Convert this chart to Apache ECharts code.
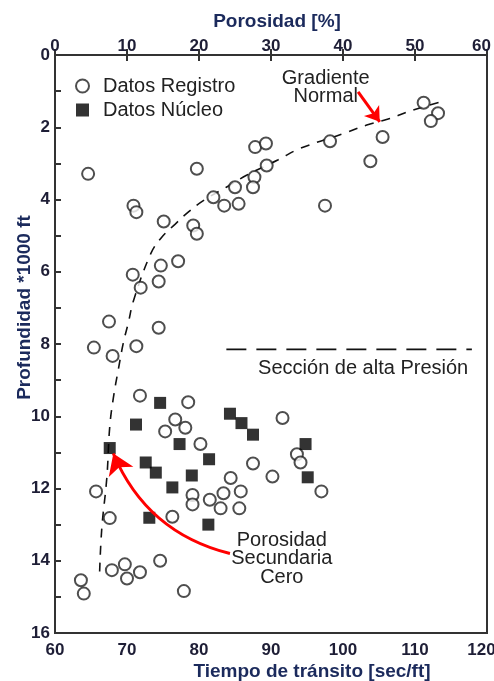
<!DOCTYPE html>
<html>
<head>
<meta charset="utf-8">
<script src="https://cdn.jsdelivr.net/npm/echarts@6/dist/echarts.min.js"></script>
<style>
  html, body { margin: 0; padding: 0; background: #fff; }
  #chart { width: 494px; height: 681px; }
</style>
</head>
<body>
<div id="chart"></div>
<script>
// [tiempo de transito (sec/ft), profundidad (*1000 ft)]
var datosRegistro = [
  [111.2, 1.32], [113.2, 1.61], [112.2, 1.83], [105.5, 2.27], [103.8, 2.94],
  [97.5, 4.17], [98.2, 2.39], [64.6, 3.29], [79.7, 3.15], [87.8, 2.55],
  [89.3, 2.45], [89.4, 3.06], [87.7, 3.38], [87.5, 3.66], [85.0, 3.66],
  [82.0, 3.94], [83.5, 4.17], [85.5, 4.12], [70.9, 4.17], [71.3, 4.35],
  [75.1, 4.61], [79.2, 4.72], [79.7, 4.95], [77.1, 5.71], [74.7, 5.83],
  [70.8, 6.08], [74.4, 6.27], [71.9, 6.44], [67.5, 7.38], [74.4, 7.55],
  [65.4, 8.10], [71.3, 8.06], [68.0, 8.33], [71.8, 9.43], [78.5, 9.61],
  [76.7, 10.09], [78.1, 10.32], [75.3, 10.42], [80.2, 10.77], [91.6, 10.05],
  [93.6, 11.05], [94.1, 11.28], [87.5, 11.31], [90.2, 11.67], [97.0, 12.08],
  [84.4, 11.71], [83.4, 12.13], [85.8, 12.08], [79.1, 12.18], [79.1, 12.44],
  [81.5, 12.31], [83.0, 12.55], [85.6, 12.55], [76.3, 12.78], [65.7, 12.08],
  [67.6, 12.82], [74.6, 14.0], [67.9, 14.26], [69.7, 14.10], [70.0, 14.49],
  [71.8, 14.32], [63.6, 14.54], [64.0, 14.91], [77.9, 14.84]
]

var datosNucleo = [
  [74.6, 9.63], [71.25, 10.23], [67.6, 10.88], [77.3, 10.77], [84.3, 9.93],
  [85.9, 10.19], [87.5, 10.51], [81.4, 11.19], [94.8, 10.77], [95.1, 11.69],
  [79.0, 11.64], [76.3, 11.97], [72.6, 11.28], [74.0, 11.56], [73.1, 12.81],
  [81.3, 13.0]
]

// tendencia del gradiente normal (linea discontinua)
var gradienteNormal = [
  [66.2, 14.3], [66.5, 13.1], [67.2, 11.7], [67.6, 10.3], [68.1, 9.5],
  [68.8, 8.7], [69.5, 7.96], [70.2, 7.4], [70.9, 6.8], [73.3, 5.5],
  [74.8, 5.05], [76.7, 4.68], [78.5, 4.35], [80.6, 4.03], [83.8, 3.66],
  [86.6, 3.33], [91.0, 2.9], [94.0, 2.59], [100.0, 2.18], [103.3, 1.94],
  [106.5, 1.76], [109.3, 1.55], [113.5, 1.30]
]

var seccionAltaPresion = [[83.8, 8.15], [117.9, 8.15]]

var flechaGradiente = [[102.1, 1.02], [105.1, 1.85]]
var flechaPorosidad = [[84.3, 13.8], [68.1, 11.03]]

var xTicks = { min: 60, max: 120, interval: 10 }
var porosidadTicks = { min: 0, max: 60, interval: 10 }
var yTicks = { min: 0, max: 16, interval: 2 }

var fontFam = 'Liberation Sans, Arial, sans-serif'
var tickColor = '#1e1e36'
var nameColor = '#1b2a5c'
var lineColor = '#333'
var rojo = '#ff0000'

function flecha(coords, curva, size) {
  return {
    type: 'lines',
    coordinateSystem: 'cartesian2d',
    silent: true,
    z: 5,
    symbol: ['none', 'arrow'],
    symbolSize: size,
    lineStyle: { color: rojo, width: 3, opacity: 1, curveness: curva },
    itemStyle: { color: rojo },
    data: [{ coords: coords }]
  }
}

// la ultima etiqueta de cada eje horizontal queda un poco hacia dentro
function etiquetaX(max) {
  return {
    fontSize: 17, fontWeight: 'bold', color: tickColor, fontFamily: fontFam,
    formatter: function (v) {
      return v === max ? '{m|' + v + '}' : '' + v
    },
    rich: {
      m: {
        fontSize: 17, fontWeight: 'bold', color: tickColor, fontFamily: fontFam,
        padding: [0, 11, 0, 0]
      }
    }
  }
}

var chart = echarts.init(document.getElementById('chart'))

var ejeInferior = etiquetaX(xTicks.max)
ejeInferior.margin = 9
var ejeSuperior = etiquetaX(porosidadTicks.max)
ejeSuperior.margin = 0

chart.setOption({
  animation: false,
  grid: {
    left: 55,
    right: 7,
    top: 55,
    bottom: 48,
    outerBoundsMode: 'none',
    show: true,
    borderColor: lineColor,
    borderWidth: 2
  },
  legend: {
    orient: 'vertical',
    left: 70,
    top: 71,
    itemWidth: 13,
    itemHeight: 13,
    itemGap: 4,
    selectedMode: false,
    data: ['Datos Registro', 'Datos Núcleo'],
    textStyle: { fontSize: 20, color: '#222', fontFamily: fontFam, padding: [0, 0, 0, 9] }
  },
  xAxis: [
    {
      type: 'value',
      position: 'bottom',
      min: xTicks.min,
      max: xTicks.max,
      interval: xTicks.interval,
      name: 'Tiempo de tránsito [sec/ft]',
      nameLocation: 'middle',
      nameMoveOverlap: false,
      nameGap: 29,
      nameTextStyle: {
        fontSize: 19, fontWeight: 'bold', color: nameColor, fontFamily: fontFam,
        padding: [0, 0, 0, 82]
      },
      axisLine: { lineStyle: { color: lineColor, width: 2 } },
      axisTick: { inside: true, length: 6, lineStyle: { color: lineColor, width: 2 } },
      axisLabel: ejeInferior,
      splitLine: { show: false }
    },
    {
      type: 'value',
      position: 'top',
      min: porosidadTicks.min,
      max: porosidadTicks.max,
      interval: porosidadTicks.interval,
      name: 'Porosidad [%]',
      nameLocation: 'middle',
      nameMoveOverlap: false,
      nameGap: 24,
      nameTextStyle: {
        fontSize: 19, fontWeight: 'bold', color: nameColor, fontFamily: fontFam,
        padding: [0, 0, 0, 12]
      },
      axisLine: { lineStyle: { color: lineColor, width: 2 } },
      axisTick: { inside: true, length: 6, lineStyle: { color: lineColor, width: 2 } },
      axisLabel: ejeSuperior,
      splitLine: { show: false }
    }
  ],
  yAxis: {
    type: 'value',
    inverse: true,
    min: yTicks.min,
    max: yTicks.max,
    interval: yTicks.interval,
    name: 'Profundidad *1000 ft',
    nameLocation: 'middle',
    nameMoveOverlap: false,
    nameGap: 21,
    nameTextStyle: {
      fontSize: 19, fontWeight: 'bold', color: nameColor, fontFamily: fontFam,
      padding: [0, 0, 0, 73]
    },
    axisLine: { lineStyle: { color: lineColor, width: 2 } },
    axisTick: { inside: true, length: 6, lineStyle: { color: lineColor, width: 2 } },
    minorTick: { show: true, splitNumber: 2, length: 6, lineStyle: { color: lineColor, width: 2 } },
    axisLabel: { fontSize: 17, fontWeight: 'bold', color: tickColor, fontFamily: fontFam, margin: 5 },
    splitLine: { show: false },
    minorSplitLine: { show: false }
  },
  series: [
    {
      name: 'Gradiente',
      type: 'line',
      data: gradienteNormal,
      smooth: 0.4,
      showSymbol: false,
      silent: true,
      z: 1,
      lineStyle: { color: '#111', width: 1.6, type: [9, 8] }
    },
    {
      name: 'Alta presion',
      type: 'line',
      data: seccionAltaPresion,
      showSymbol: false,
      silent: true,
      z: 1,
      lineStyle: { color: '#111', width: 1.6, type: [20, 10] }
    },
    {
      name: 'Datos Registro',
      type: 'scatter',
      data: datosRegistro,
      symbol: 'circle',
      symbolSize: 12,
      z: 3,
      itemStyle: { color: '#fff', borderColor: '#222', borderWidth: 2 }
    },
    {
      name: 'Datos Núcleo',
      type: 'scatter',
      data: datosNucleo,
      symbol: 'rect',
      symbolSize: 12,
      z: 4,
      itemStyle: { color: '#000' }
    },
    flecha(flechaGradiente, 0, [12, 14]),
    flecha(flechaPorosidad, 0.25, [11, 20])
  ]
})

// anotaciones de texto, ubicadas en coordenadas de datos
var notas = [
  { text: 'Gradiente\nNormal', at: [97.6, 0.89], lh: 18 },
  { text: 'Sección de alta Presión', at: [102.8, 8.67], lh: 20 },
  { text: 'Porosidad\nSecundaria\nCero', at: [91.5, 13.94], lh: 18.5 }
]

chart.setOption({
  graphic: notas.map(function (n) {
    var p = chart.convertToPixel({ seriesIndex: 0 }, n.at)
    return {
      type: 'text',
      x: p[0],
      y: p[1],
      z: 10,
      style: {
        text: n.text,
        fill: '#222',
        font: '20px ' + fontFam,
        lineHeight: n.lh,
        align: 'center',
        verticalAlign: 'middle'
      }
    }
  })
})
</script>
</body>
</html>
